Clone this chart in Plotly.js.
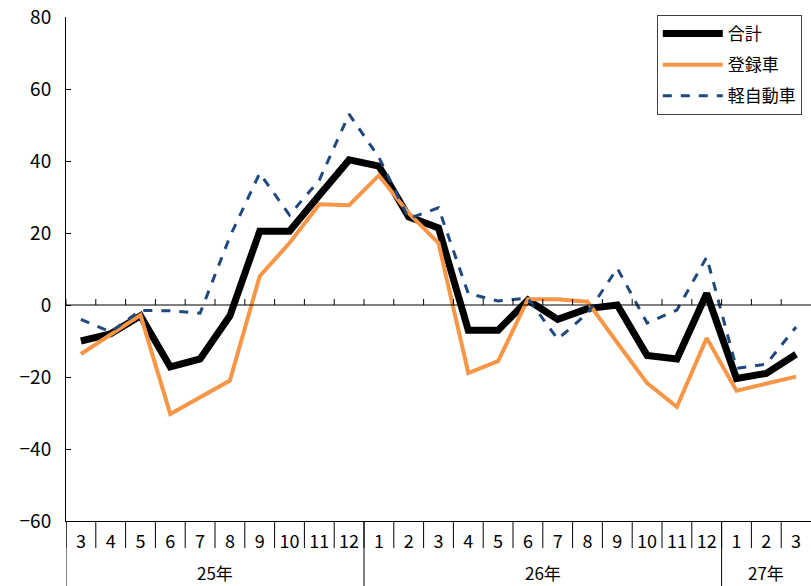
<!DOCTYPE html>
<html><head><meta charset="utf-8">
<script src="https://cdn.plot.ly/plotly-3.0.1.min.js"></script>
<style>html,body{margin:0;padding:0;background:#fff}#chart{width:811px;height:586px}</style>
</head><body><div id="chart"></div>
<script>
const months = ["3","4","5","6","7","8","9","10","11","12","1","2","3","4","5","6","7","8","9","10","11","12","1","2","3"];
const yearLabels = ["25年","26年","27年"];
const yearCounts = [10,12,3];
const total = [-10,-8,-3,-17.2,-15,-3,20.5,20.5,30.5,40.3,38.6,24.5,21.4,-7,-7,1.4,-4,-1,0,-14,-15,3.2,-20.4,-19,-13.7];
const registered = [-13.6,-8.3,-2.8,-30.3,-25.8,-21,8,17.2,28,27.7,36,25.5,17.2,-18.9,-15.6,1.6,1.6,0.9,-10.5,-21.7,-28.3,-9.2,-23.8,-21.8,-19.9];
const kei = [-4,-7.5,-1.5,-1.6,-2.3,19,36.6,25,34.7,53,41,24,27,3.2,1.1,1.9,-9.5,-2.3,10.2,-5,-1.4,13.3,-17.6,-16.4,-6.1];
const seriesNames = ["合計","登録車","軽自動車"];

const idx = months.map((_, i) => i);
const font = "'Liberation Sans Narrow', 'Noto Sans CJK JP', sans-serif";
const jfont = "'Noto Sans CJK JP', sans-serif";

const traces = [
  {x: idx, y: total, name: seriesNames[0], legendgroup: "a", mode: "lines", line: {color: "#000000", width: 7}},
  {x: idx, y: registered, name: seriesNames[1], legendgroup: "b", mode: "lines", line: {color: "#F79646", width: 4}},
  {x: idx, y: kei, name: seriesNames[2], legendgroup: "c", mode: "lines", line: {color: "#1F497D", width: 3, dash: "dash"}}
];

const shapes = [];
const pxY = 504;
for (let b = 0; b < months.length; b++) {
  const xb = b - 0.5;
  shapes.push({type: "line", xref: "x", yref: "paper", x0: xb, x1: xb, y0: 0, y1: -27 / pxY, line: {color: "#000", width: 1}});
  shapes.push({type: "line", xref: "x", yref: "y", x0: xb, x1: xb, y0: 0, y1: 6 / 3.6, line: {color: "#000", width: 1}});
}
let acc = 0;
const annotations = [];
for (let k = 0; k < yearCounts.length; k++) {
  const start = acc - 0.5;
  shapes.push({type: "line", xref: "x", yref: "paper", x0: start, x1: start, y0: 0, y1: -65 / pxY, line: {color: "#000", width: 1}});
  annotations.push({x: acc - 0.5 + yearCounts[k] / 2, xref: "x", y: -51 / pxY, yref: "paper", text: yearLabels[k], showarrow: false, font: {family: jfont, size: 17, color: "#000"}, yanchor: "middle"});
  acc += yearCounts[k];
}
shapes.push({type: "line", xref: "paper", yref: "y", x0: 0, x1: 1, y0: 0, y1: 0, line: {color: "#000", width: 1}});

const layout = {
  width: 811, height: 586,
  margin: {l: 66, r: 0, t: 17, b: 65},
  paper_bgcolor: "#fff", plot_bgcolor: "#fff",
  showlegend: true,
  legend: {x: 0.793, y: 1.004, xanchor: "left", yanchor: "top", bordercolor: "#404040", borderwidth: 1, bgcolor: "#fff", font: {family: jfont, size: 17, color: "#000"}, tracegroupgap: 6, itemwidth: 60},
  xaxis: {range: [-0.5, 24.5], tickvals: idx, ticktext: months, ticks: "", showgrid: false, zeroline: false, showline: true, linecolor: "#000", linewidth: 1, tickfont: {family: font, size: 18, color: "#000"}, ticklabelstandoff: 4, fixedrange: true},
  yaxis: {range: [-60, 80], tickvals: [-60,-40,-20,0,20,40,60,80], ticks: "inside", ticklen: 5, tickcolor: "#000", showgrid: false, zeroline: false, showline: true, linecolor: "#000", linewidth: 1, tickfont: {family: font, size: 19, color: "#000"}, ticklabelstandoff: 10},
  shapes: shapes,
  annotations: annotations
};
Plotly.newPlot("chart", traces, layout, {displayModeBar: false, staticPlot: true});
</script></body></html>
